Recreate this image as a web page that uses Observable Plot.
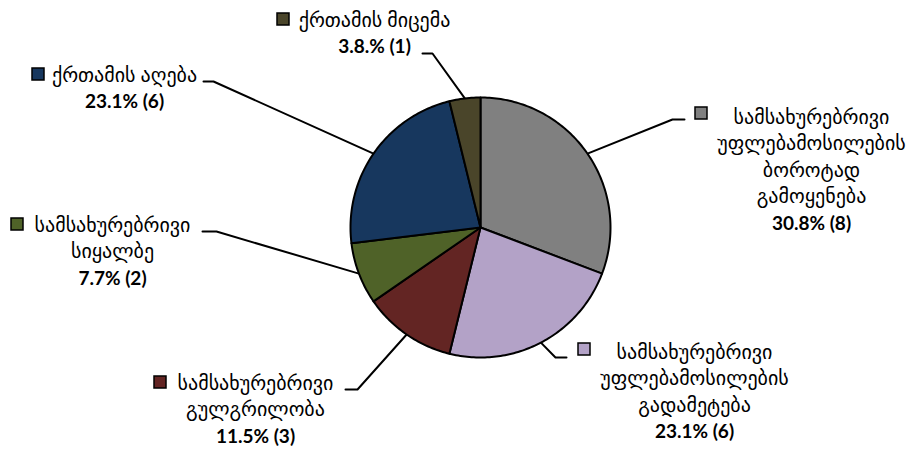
<!DOCTYPE html>
<html>
<head>
<meta charset="utf-8">
<script src="https://cdn.jsdelivr.net/npm/d3@7"></script>
<script src="https://cdn.jsdelivr.net/npm/@observablehq/plot@0.6"></script>
<style>
  html, body { margin: 0; padding: 0; background: #fff; }
  #chart svg { display: block; }
</style>
</head>
<body>
<div id="chart"></div>
<script>
// ---- data ----
const categories = [
  "სამსახურებრივი უფლებამოსილების ბოროტად გამოყენება",
  "სამსახურებრივი უფლებამოსილების გადამეტება",
  "სამსახურებრივი გულგრილობა",
  "სამსახურებრივი სიყალბე",
  "ქრთამის აღება",
  "ქრთამის მიცემა"
];
const counts = [8, 6, 3, 2, 6, 1];
const valueLabels = ["30.8% (8)", "23.1% (6)", "11.5% (3)", "7.7% (2)", "23.1% (6)", "3.8.% (1)"];
const nameLines = [
  ["სამსახურებრივი", "უფლებამოსილების", "ბოროტად", "გამოყენება"],
  ["სამსახურებრივი", "უფლებამოსილების", "გადამეტება"],
  ["სამსახურებრივი", "გულგრილობა"],
  ["სამსახურებრივი", "სიყალბე"],
  ["ქრთამის აღება"],
  ["ქრთამის მიცემა"]
];
const colors = ["#808080", "#b3a2c7", "#632523", "#4f6228", "#17375e", "#4a452a"];

// ---- layout (pixels) ----
const W = 908, H = 449;
const pie = {cx: 480, cy: 227, r: 130};
const lineGap = 26.5;
const layout = [
  {tx: 811, ty: 117, sx: 695, sy: 107, elbow: [672, 119], end: [684, 119]},
  {tx: 694, ty: 352, sx: 578, sy: 343, elbow: [555, 357], end: [566, 357]},
  {tx: 255, ty: 383, sx: 154, sy: 376, elbow: [357, 389], end: [345, 389]},
  {tx: 112, ty: 225, sx: 11,  sy: 218, elbow: [216, 231], end: [202, 231]},
  {tx: 124, ty: 75,  sx: 32,  sy: 68,  elbow: [213, 81],  end: [203, 81]},
  {tx: 374, ty: 20,  sx: 277, sy: 13,  elbow: [432, 53],  end: [422, 53]}
];
const sq = 12;

// ---- derived geometry ----
const arcs = d3.pie().sort(null).value(d => d)(counts);
const pt = a => [pie.cx + pie.r * Math.sin(a), pie.cy - pie.r * Math.cos(a)];

const slicePts = [];
arcs.forEach((a, i) => {
  const name = categories[i];
  slicePts.push({name, x: pie.cx, y: pie.cy});
  const n = Math.max(2, Math.ceil((a.endAngle - a.startAngle) / (Math.PI / 180)));
  for (let k = 0; k <= n; k++) {
    const ang = a.startAngle + (a.endAngle - a.startAngle) * k / n;
    const [x, y] = pt(ang);
    slicePts.push({name, x, y});
  }
  slicePts.push({name, x: pie.cx, y: pie.cy});
});

const leaderPts = [];
arcs.forEach((a, i) => {
  const mid = (a.startAngle + a.endAngle) / 2;
  const [x, y] = pt(mid);
  const L = layout[i];
  leaderPts.push({id: i, x, y});
  leaderPts.push({id: i, x: L.elbow[0], y: L.elbow[1]});
  leaderPts.push({id: i, x: L.end[0], y: L.end[1]});
});

const nameRows = [];
const valueRows = [];
nameLines.forEach((lines, i) => {
  const L = layout[i];
  lines.forEach((t, j) => nameRows.push({text: t, x: L.tx, y: L.ty + j * lineGap}));
  valueRows.push({text: valueLabels[i], x: L.tx, y: L.ty + lines.length * lineGap});
});

const keys = categories.map((name, i) => ({
  name, x1: layout[i].sx, x2: layout[i].sx + sq, y1: layout[i].sy, y2: layout[i].sy + sq
}));

const chart = Plot.plot({
  width: W,
  height: H,
  margin: 0,
  x: {domain: [0, W], range: [0, W], axis: null},
  y: {domain: [0, H], range: [0, H], axis: null},
  color: {domain: categories, range: colors},
  style: {fontFamily: "Lato, 'DejaVu Sans', sans-serif", background: "#fff"},
  marks: [
    Plot.line(leaderPts, {x: "x", y: "y", z: "id", stroke: "#000", strokeWidth: 2}),
    Plot.line(slicePts, {x: "x", y: "y", z: "name", fill: "name", stroke: "#000", strokeWidth: 2, strokeLinejoin: "round"}),
    Plot.rect(keys, {x1: "x1", x2: "x2", y1: "y1", y2: "y2", fill: "name", stroke: "#000", strokeWidth: 1.5}),
    Plot.text(nameRows, {x: "x", y: "y", text: "text", textAnchor: "middle", lineAnchor: "middle", fontSize: 20, fill: "#000"}),
    Plot.text(valueRows, {x: "x", y: "y", text: "text", textAnchor: "middle", lineAnchor: "middle", fontSize: 19, fontWeight: "bold", fill: "#000"})
  ]
});
document.getElementById("chart").appendChild(chart);
</script>
</body>
</html>
